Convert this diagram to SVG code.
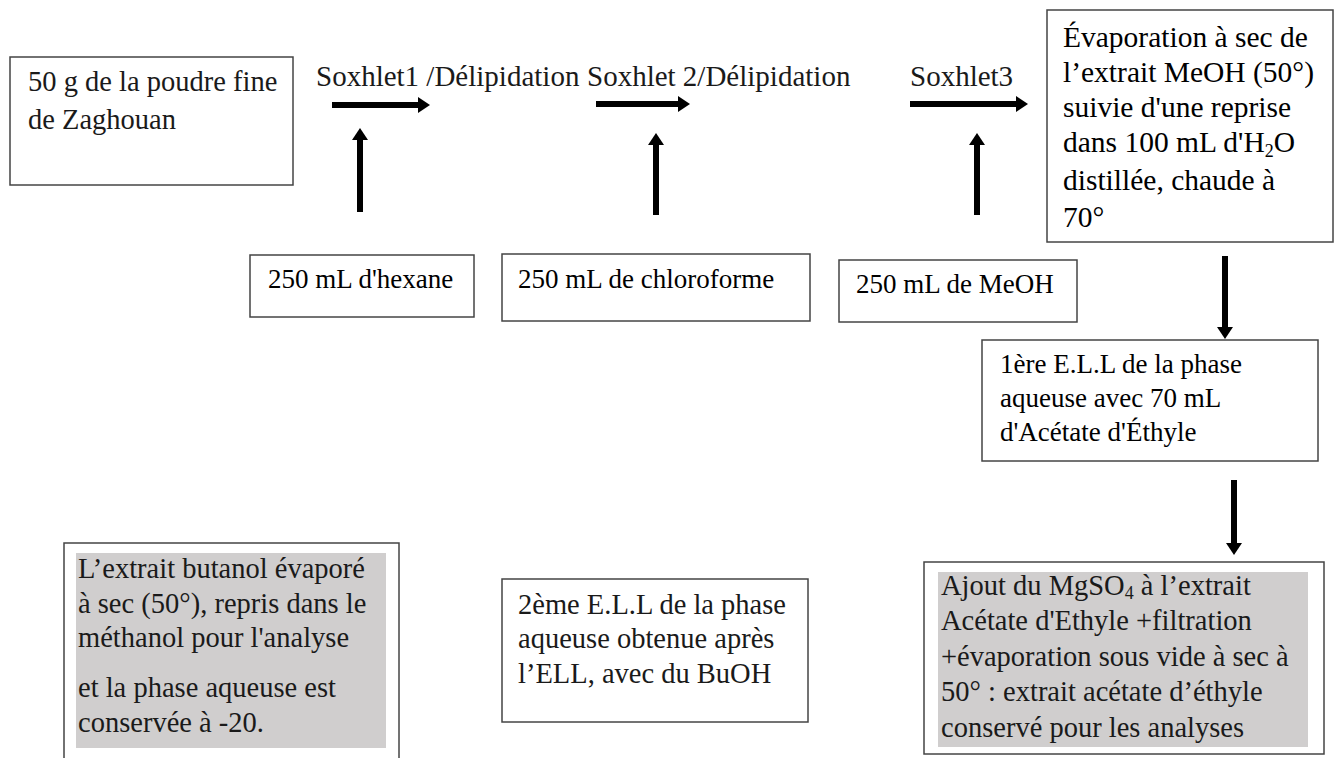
<svg xmlns="http://www.w3.org/2000/svg" width="1342" height="758" viewBox="0 0 1342 758">
<style>
.box{fill:#fff;stroke:#444;stroke-width:1.5}
.shade{fill:#d0cece}
.t{font-size:27px;fill:#000}
.e{font-size:29.5px;fill:#000}
.g{font-size:28.5px;fill:#1a1a1a}
.lab{font-size:29px;fill:#1a1a1a}
.sub{font-size:18px}
.arr{stroke:#000;stroke-width:6;fill:none;marker-end:url(#head)}
</style>
<defs>
<marker id="head" markerUnits="userSpaceOnUse" markerWidth="12" markerHeight="16" refX="2" refY="8" orient="auto">
<path d="M0,0 L12,8 L0,16 Z" fill="#000"/>
</marker>
</defs>
<rect width="1342" height="758" fill="#fff"/>
<g font-family="'Liberation Serif', Tinos, 'Times New Roman', serif">

<g id="n-start">
<rect class="box" x="10" y="57" width="283" height="128"/>
<text class="g" x="28" y="91">50 g de la poudre fine</text>
<text class="g" x="28" y="129">de Zaghouan</text>
</g>

<g id="n-soxhlet-labels">
<text class="lab" x="316" y="86">Soxhlet1 /Délipidation</text>
<text class="lab" x="587" y="86">Soxhlet 2/Délipidation</text>
<text class="lab" x="910" y="86">Soxhlet3</text>
</g>

<g id="n-hexane">
<rect class="box" x="250" y="255" width="224" height="62"/>
<text class="t" x="268" y="288">250 mL d'hexane</text>
</g>

<g id="n-chloroforme">
<rect class="box" x="502" y="254" width="308" height="67"/>
<text class="t" x="518" y="288">250 mL de chloroforme</text>
</g>

<g id="n-meoh">
<rect class="box" x="839" y="260" width="238" height="62"/>
<text class="t" x="856" y="293">250 mL de MeOH</text>
</g>

<g id="n-evaporation">
<rect class="box" x="1047" y="10" width="286" height="232"/>
<text class="e" x="1063" y="47">Évaporation à sec de</text>
<text class="e" x="1063" y="82">l’extrait MeOH (50°)</text>
<text class="e" x="1063" y="117">suivie d'une reprise</text>
<text class="e" x="1063" y="152">dans 100 mL d'H<tspan class="sub" dy="5">2</tspan><tspan dy="-5">O</tspan></text>
<text class="e" x="1063" y="190">distillée, chaude à</text>
<text class="e" x="1063" y="227">70°</text>
</g>

<g id="n-ell1">
<rect class="box" x="982" y="340" width="336" height="121"/>
<text class="t" x="1000" y="373">1ère E.L.L de la phase</text>
<text class="t" x="1000" y="407">aqueuse avec 70 mL</text>
<text class="t" x="1000" y="441">d'Acétate d'Éthyle</text>
</g>

<g id="n-ajout">
<rect class="box" x="924" y="562" width="400" height="192"/>
<rect class="shade" x="938" y="572" width="370" height="175"/>
<text class="g" x="941" y="595">Ajout du MgSO<tspan class="sub" dy="4">4</tspan><tspan dy="-4"> à l’extrait</tspan></text>
<text class="g" x="941" y="630">Acétate d'Ethyle +filtration</text>
<text class="g" x="941" y="666">+évaporation sous vide à sec à</text>
<text class="g" x="941" y="701">50° : extrait acétate d’éthyle</text>
<text class="g" x="941" y="737">conservé pour les analyses</text>
</g>

<g id="n-ell2">
<rect class="box" x="502" y="579" width="306" height="143"/>
<text class="g" x="518" y="614">2ème E.L.L de la phase</text>
<text class="g" x="518" y="648">aqueuse obtenue après</text>
<text class="g" x="518" y="683">l’ELL, avec du BuOH</text>
</g>

<g id="n-butanol">
<rect class="box" x="64" y="543" width="335" height="225"/>
<rect class="shade" x="76" y="553" width="310" height="195"/>
<text class="g" x="78" y="578">L’extrait butanol évaporé</text>
<text class="g" x="78" y="613">à sec (50°), repris dans le</text>
<text class="g" x="78" y="647">méthanol pour l'analyse</text>
<text class="g" x="78" y="697">et la phase aqueuse est</text>
<text class="g" x="78" y="732">conservée à -20.</text>
</g>
</g>

<g id="connectors">
<line class="arr" x1="332" y1="105" x2="420" y2="105"/>
<line class="arr" x1="596" y1="104" x2="680" y2="104"/>
<line class="arr" x1="910" y1="104" x2="1018" y2="104"/>
<line class="arr" x1="360" y1="212" x2="360" y2="138"/>
<line class="arr" x1="656" y1="215" x2="656" y2="143"/>
<line class="arr" x1="977" y1="215" x2="977" y2="143"/>
<line class="arr" x1="1225" y1="256" x2="1225" y2="329"/>
<line class="arr" x1="1234" y1="480" x2="1234" y2="545"/>
</g>
</svg>
